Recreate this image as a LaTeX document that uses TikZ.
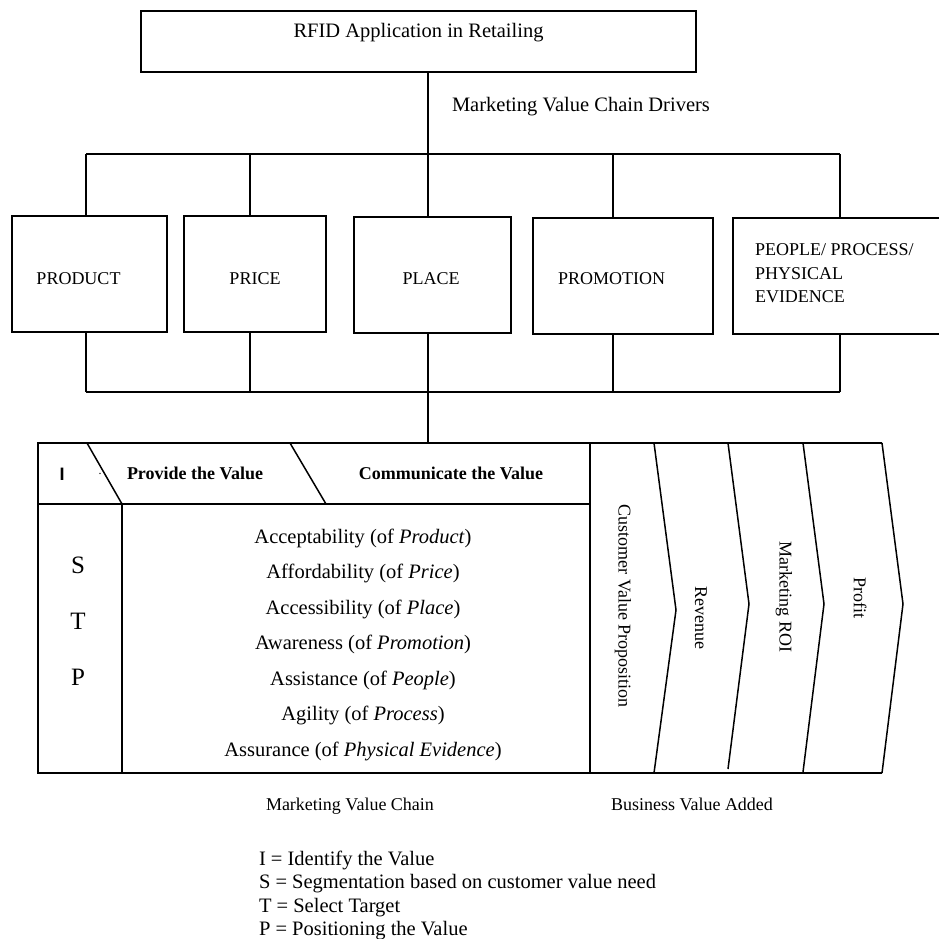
\documentclass[tikz,border=0pt]{standalone}
\usepackage{fontspec}
\setmainfont{Liberation Serif}
\newfontfamily\headsans{Liberation Sans}
\begin{document}
\begin{tikzpicture}[x=1pt,y=-1pt,line width=1.5pt,
  every node/.style={inner sep=0pt,outer sep=0pt},
  box/.style={draw,rectangle,line width=1.5pt},
  txtL/.style={font=\fontsize{20.5}{23.4}\selectfont},
  txtM/.style={font=\fontsize{18}{22}\selectfont},
  txtH/.style={font=\fontsize{18}{22}\selectfont\bfseries},
  txtS/.style={font=\fontsize{25}{28}\selectfont},
  vtext/.style={font=\fontsize{18}{22}\selectfont,rotate=-90}]
\useasboundingbox (0,0) rectangle (938,939);

% title box
\node[box,minimum width=555pt,minimum height=61pt] (rfid) at (418.5,41.5) {};
\node[txtL,anchor=base] (rfidtxt) at (418.5,38) {RFID Application in Retailing};
\node[txtL,anchor=base west] (drivers) at (452,112) {Marketing Value Chain Drivers};

% the marketing mix boxes
\node[box,minimum width=155pt,minimum height=116pt] (prod)  at (89.5,274) {};
\node[box,minimum width=142pt,minimum height=116pt] (price) at (255,274) {};
\node[box,minimum width=157pt,minimum height=116pt] (place) at (432.5,275) {};
\node[box,minimum width=180pt,minimum height=116pt] (promo) at (623,276) {};
\node[box,minimum width=209pt,minimum height=116pt] (ppp)   at (837.5,276) {};

\node[txtM,anchor=base] (prodtxt)  at (78.5,284) {PRODUCT};
\node[txtM,anchor=base] (pricetxt) at (255,284) {PRICE};
\node[txtM,anchor=base] (placetxt) at (431,284) {PLACE};
\node[txtM,anchor=base west] (promotxt) at (558,284) {PROMOTION};
\node[txtM,anchor=base west] (ppp1) at (755,255) {PEOPLE/ PROCESS/};
\node[txtM,anchor=base west] (ppp2) at (755,279) {PHYSICAL};
\node[txtM,anchor=base west] (ppp3) at (755,302) {EVIDENCE};

% buses
\coordinate (t1) at (86,154);  \coordinate (t2) at (250,154);
\coordinate (t3) at (428,154); \coordinate (t4) at (613,154);
\coordinate (t5) at (840,154);
\coordinate (b1) at (86,392);  \coordinate (b2) at (250,392);
\coordinate (b3) at (428,392); \coordinate (b4) at (613,392);
\coordinate (b5) at (840,392);
\coordinate (tab) at (428,443);

\draw (rfid.south -| t3) -- (t3);
\draw (t1) -- (t5);
\draw (b1) -- (b5);
\foreach \i/\n in {1/prod,2/price,3/place,4/promo,5/ppp}{
  \draw (t\i) -- (t\i |- \n.north);
  \draw (b\i) -- (b\i |- \n.south);
}
\draw (b3) -- (tab);

% value chain table
\draw (38,443) rectangle (590,773);
\draw (38,504) -- (590,504);
\draw (122,504) -- (122,773);
\draw (87,443) -- (122,504);
\draw (290,443) -- (326,504);

\node[font=\fontsize{18}{22}\selectfont\headsans\bfseries,anchor=base] (ihead) at (62,480) {I};
\node[font=\fontsize{12}{12}\selectfont,anchor=base] (dot) at (100,474) {.};
\node[txtH,anchor=base] (provide) at (195,479) {Provide the Value};
\node[txtH,anchor=base] (commun) at (451,479) {Communicate the Value};

\node[txtS,anchor=base] (s) at (78,573) {S};
\node[txtS,anchor=base] (t) at (78,629) {T};
\node[txtS,anchor=base] (p) at (78,685) {P};

\node[txtL,anchor=base] (l1) at (363,543) {Acceptability (of \textit{Product})};
\node[txtL,anchor=base] (l2) at (363,578.5) {Affordability (of \textit{Price})};
\node[txtL,anchor=base] (l3) at (363,614) {Accessibility (of \textit{Place})};
\node[txtL,anchor=base] (l4) at (363,649.5) {Awareness (of \textit{Promotion})};
\node[txtL,anchor=base] (l5) at (363,685) {Assistance (of \textit{People})};
\node[txtL,anchor=base] (l6) at (363,720) {Agility (of \textit{Process})};
\node[txtL,anchor=base] (l7) at (363,756) {Assurance (of \textit{Physical Evidence})};

% business value chevrons
\draw (590,443) -- (882,443);
\draw (590,773) -- (882,773);
\draw (654,443) -- (676,610) -- (654,773);
\draw (728,443) -- (749,604) -- (728,769);
\draw (803,443) -- (824,604) -- (803,772);
\draw (882,443) -- (903,604) -- (882,773);

\node[vtext] (cvp) at (623,606) {Customer Value Proposition};
\node[vtext] (rev) at (701,618) {Revenue};
\node[vtext] (roi) at (784,597) {Marketing ROI};
\node[vtext] (profit) at (860,598) {Profit};

% captions and legend
\node[txtM,anchor=base west] (mvc) at (266,810) {Marketing Value Chain};
\node[txtM,anchor=base west] (bva) at (611,810) {Business Value Added};

\node[txtL,anchor=base west] (k1) at (259,865) {I = Identify the Value};
\node[txtL,anchor=base west] (k2) at (259,888.5) {S = Segmentation based on customer value need};
\node[txtL,anchor=base west] (k3) at (259,912) {T = Select Target};
\node[txtL,anchor=base west] (k4) at (259,935.5) {P = Positioning the Value};
\end{tikzpicture}
\end{document}
